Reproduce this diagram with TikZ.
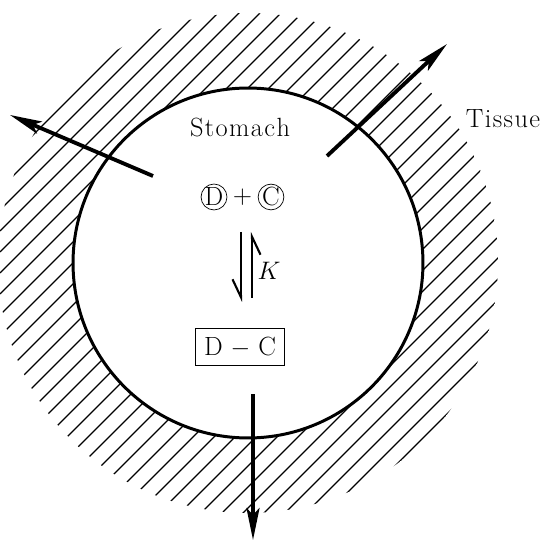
\documentclass[tikz,border=0pt]{standalone}
\usetikzlibrary{arrows.meta, positioning, calc}
\tikzset{
  wall/.style={line width=1.7pt},
  hatchline/.style={line width=0.65pt},
  flux/.style={line width=2.2pt,
               -{Stealth[length=0.64cm, width=0.26cm, inset=0.14cm]}},
  harp/.style={line width=1.2pt, -{Straight Barb[right, length=0.36cm, width=0.34cm]}},
  lbl/.style={font=\fontsize{15}{18}\selectfont, inner sep=1pt},
  mol/.style={circle, draw, line width=0.4pt, minimum size=0.47cm,
              inner sep=0pt, font=\fontsize{15}{18}\selectfont},
  cplx/.style={draw, line width=0.7pt, minimum width=1.78cm,
               minimum height=0.74cm, inner sep=0pt,
               font=\fontsize{15}{18}\selectfont},
}

\begin{document}
\begin{tikzpicture}[x=0.02cm, y=-0.02cm]
  \useasboundingbox (0,0) rectangle (544,540);
  %% Tissue (hatched ring around the stomach)
  \begin{scope}[even odd rule]
    \clip (248,263) circle[radius=250] (248,263) circle[radius=175];
    \foreach \c in {0,21,...,1100}
      \draw[hatchline] (0,\c) -- (\c,0);
  \end{scope}
  \node[draw, wall, circle, minimum size=7cm] (stomach) at (248,263) {};

  %% Labels
  \node[lbl] (stm) at (240,128) {S\kern.8pt t\kern.8pt o\kern.8pt m\kern.8pt a\kern.8pt c\kern.8pt h};
  \node[lbl] (tis) at (503,119) {T\kern.8pt i\kern.8pt s\kern.8pt s\kern.8pt u\kern.8pt e};

  %% D + C
  \node[mol] (d) at (214,197) {D};
  \node[mol] (c) at (271,197) {C};
  \node[lbl] (plus) at ($(d)!0.5!(c)$) {$+$};

  %% Equilibrium
  \coordinate (hd1) at (241,232);
  \coordinate (hd2) at (241,302);
  \coordinate (hu1) at (252,298);
  \coordinate (hu2) at (252,232);
  \draw[harp] (hd1) -- (hd2);
  \draw[harp] (hu1) -- (hu2);
  \node[lbl] (k) at (269,271) {$K$};

  %% Complex
  \node[cplx] (dc) at (240,347) {D $-$ C};

  %% Fluxes through the wall
  \coordinate (f1a) at (153,176);
  \coordinate (f1b) at (10,115);
  \coordinate (f2a) at (327,156);
  \coordinate (f2b) at (447,44);
  \coordinate (f3a) at (253,394);
  \coordinate (f3b) at (253,540);
  \draw[flux] (f1a) -- (f1b);
  \draw[flux] (f2a) -- (f2b);
  \draw[flux] (f3a) -- (f3b);
\end{tikzpicture}
\end{document}
